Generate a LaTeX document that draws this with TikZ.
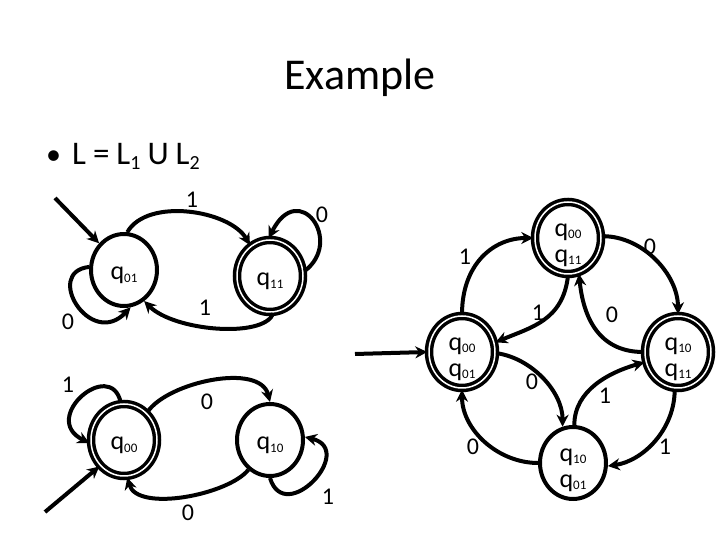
\documentclass[tikz,border=0pt]{standalone}
\usepackage{fontspec}
\setmainfont{Carlito}
\usetikzlibrary{arrows.meta,shapes.geometric}
\newcommand\qq[1]{q\raisebox{-2.5pt}{\fontsize{13}{13}\selectfont #1}}
\newcommand\lsub[1]{\raisebox{-5pt}{\fontsize{20}{20}\selectfont #1}}
\newcommand\onel[1]{\raisebox{-10pt}[0pt][0pt]{#1}}
\newcommand\twol[2]{\raisebox{1.5pt}[0pt][0pt]{\begin{tabular}[t]{@{}c@{}}#1\\#2\end{tabular}}}
\begin{document}
\begin{tikzpicture}[x=1pt,y=1pt,
  st/.style={ellipse,draw,line width=4pt,minimum width=66pt,minimum height=72pt,inner sep=0pt,font=\fontsize{26}{26}\selectfont},
  acc/.style={st,line width=3.5pt,double,double distance=1.5pt},
  arr/.style={line width=4pt,-{Stealth[length=12pt,width=12pt]}},
  lab/.style={font=\fontsize{24}{24}\selectfont,inner sep=0pt}]
\useasboundingbox (0,0) rectangle (720,540);
% title and bullet
\node[anchor=base,font=\fontsize{44}{44}\selectfont] (title) at (360,450) {Example};
\node[anchor=base west,font=\fontsize{33}{33}\selectfont,inner sep=0pt] (bul) at (46,375) {\makebox[26pt][l]{\fontsize{30}{30}\selectfont•}L\hspace{7pt}=\hspace{7pt}L\lsub{1}\hspace{7pt}U\hspace{7pt}L\lsub{2}};
% top-left automaton
\node[st] (q01) at (124,270) {\onel{\qq{01}}};
\node[acc] (q11) at (270,264) {\onel{\qq{11}}};
\coordinate (i1) at (55,342);
\draw[arr] (i1) -- (q01.133);
\draw[arr] (q01.85) .. controls +(20,35) and +(-20,35) .. (q11.123);
\draw[arr] (q11.8) .. controls +(40,30) and +(30,60) .. (q11.92);
\draw[arr] (q11.-85) .. controls +(-10,-25) and +(30,-30) .. (q01.-57);
\draw[arr] (q01.175) .. controls +(-46,-5) and +(-40,-42) .. (q01.-80);
\node[lab] (l1) at (192,340) {1};
\node[lab] (l2) at (322,325) {0};
\node[lab] (l3) at (205,232) {1};
\node[lab] (l4) at (68,218) {0};
% bottom-left automaton
\node[acc] (q00) at (124,100) {\onel{\qq{00}}};
\node[st] (q10) at (270,100) {\onel{\qq{10}}};
\coordinate (i2) at (45,28);
\draw[arr] (i2) -- (q00.227);
\draw[arr] (q00.95) .. controls +(-10,45) and +(-50,25) .. (q00.185);
\draw[arr] (q00.50) .. controls +(20,30) and +(-10,40) .. (q10.90);
\draw[arr] (q10.-90) .. controls +(15,-49) and +(52,-13) .. (q10.5);
\draw[arr] (q10.-126) .. controls +(-20,-25) and +(10,-35) .. (q00.-85);
\node[lab] (l5) at (68,155) {1};
\node[lab] (l6) at (207,138) {0};
\node[lab] (l7) at (328,43) {1};
\node[lab] (l8) at (188,27) {0};
% right automaton
\node[acc] (A) at (568,302) {\twol{\qq{00}}{\qq{11}}};
\node[acc] (B) at (462,188) {\twol{\qq{00}}{\qq{01}}};
\node[acc] (C) at (678,188) {\twol{\qq{10}}{\qq{11}}};
\node[st] (D) at (573,77) {\twol{\qq{10}}{\qq{01}}};
\coordinate (i3) at (355,186);
\draw[arr] (i3) -- (B.180);
\draw[arr] (B.90) .. controls +(0,50) and +(-40,0) .. (A.180);
\draw[arr] (A.-90) .. controls +(-5,-45) and +(35,15) .. (B.16);
\draw[arr] (A.3) .. controls +(40,0) and +(0,40) .. (C.90);
\draw[arr] (C.180) .. controls +(-40,0) and +(5,-50) .. (A.-73);
\draw[arr] (B.-2) .. controls +(35,-5) and +(0,35) .. (D.106);
\draw[arr] (D.88) .. controls +(0,35) and +(-35,-10) .. (C.197);
\draw[arr] (C.-95) .. controls +(0,-40) and +(35,5) .. (D.-5);
\draw[arr] (D.180) .. controls +(-40,0) and +(0,-40) .. (B.-90);
\node[lab] (r1) at (465,283) {1};
\node[lab] (r2) at (538,227) {1};
\node[lab] (r3) at (650,293) {0};
\node[lab] (r4) at (612,225) {0};
\node[lab] (r5) at (532,158) {0};
\node[lab] (r6) at (605,144) {1};
\node[lab] (r7) at (665,93) {1};
\node[lab] (r8) at (473,93) {0};
\end{tikzpicture}
\end{document}
